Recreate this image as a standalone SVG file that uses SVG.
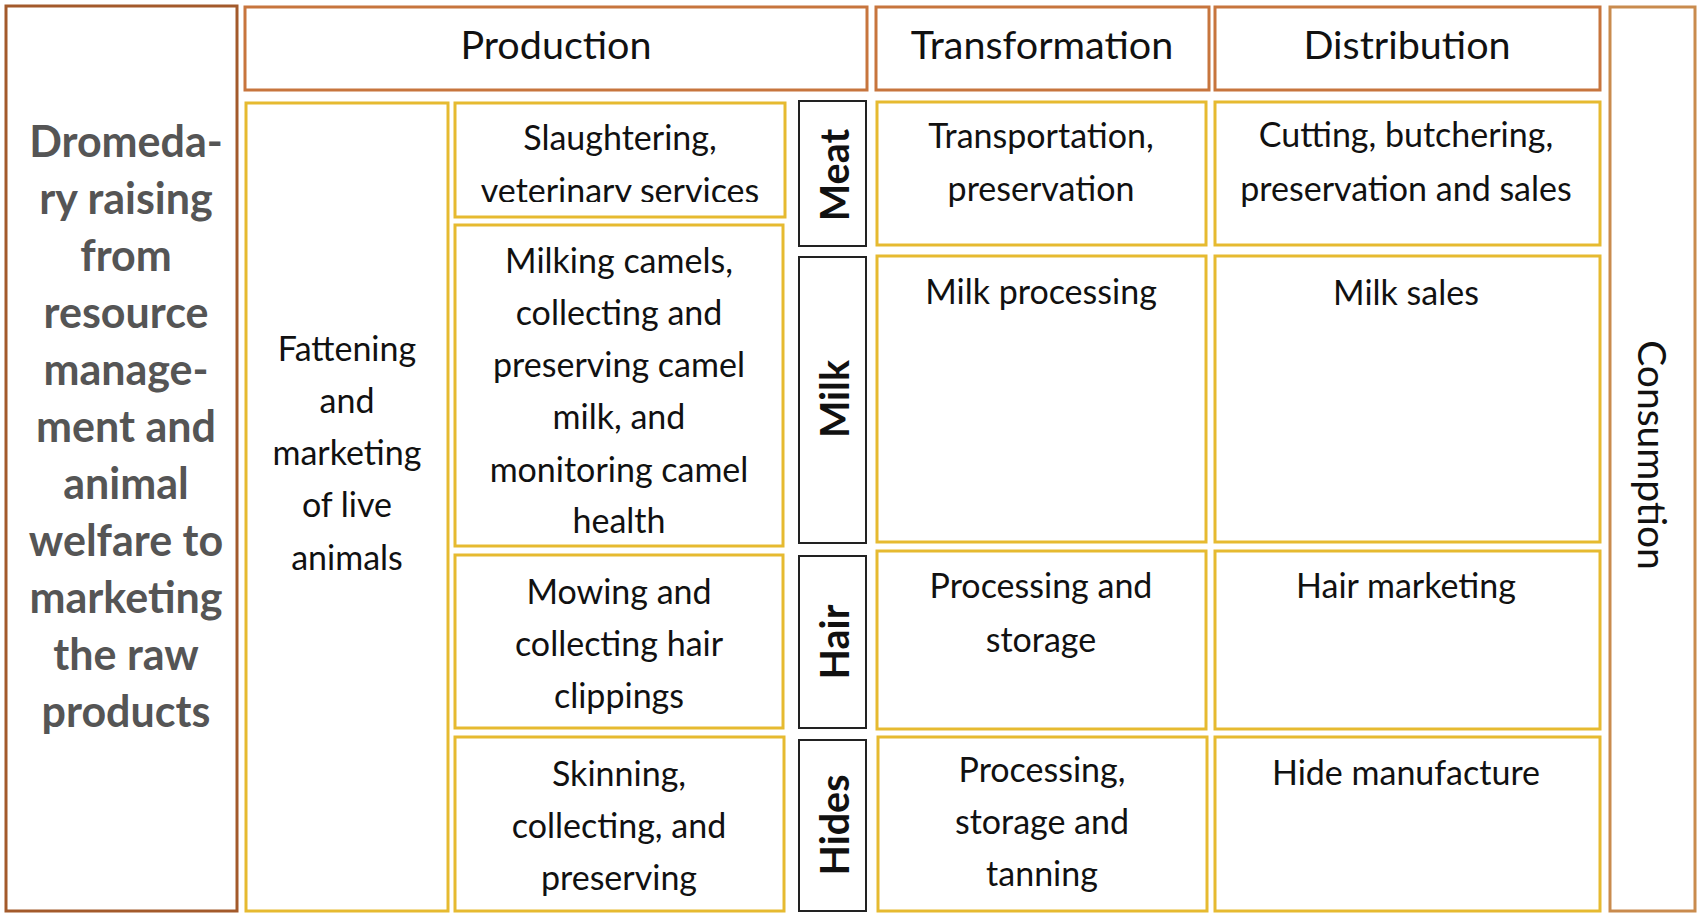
<svg xmlns="http://www.w3.org/2000/svg" width="1700" height="916" viewBox="0 0 1700 916">
<style>
.bg{fill:#fff}
.stage{fill:#fff;stroke:#C7753D;stroke-width:3}
.side{fill:#fff;stroke:#A35A2B;stroke-width:3}
.cons{fill:#fff;stroke:#C98B4E;stroke-width:3}
.cell{fill:#fff;stroke:#E6BA30;stroke-width:3}
.prod{fill:#fff;stroke:#222;stroke-width:2}
text{font-family:Lato,"Open Sans","Liberation Sans",sans-serif;fill:#111;text-anchor:middle}
.hd{font-size:39.5px}
.cn{font-size:39px}
.bd{font-size:34px}
.big{font-size:43px;font-weight:bold;fill:#555}
.pl{font-size:39.5px;font-weight:bold;fill:#111}
</style>
<defs>
<clipPath id="clipSl"><rect x="455" y="103" width="330" height="99"/></clipPath>
</defs>
<rect class="bg" x="0" y="0" width="1700" height="916"/>
<g id="connectors"></g>
<g id="overall">
<rect class="side" x="6" y="6" width="231" height="905"/>
<text class="big"><tspan x="126" y="157">Dromeda-</tspan><tspan x="126" y="214">ry raising</tspan><tspan x="126" y="271">from</tspan><tspan x="126" y="328">resource</tspan><tspan x="126" y="385">manage-</tspan><tspan x="126" y="442">ment and</tspan><tspan x="126" y="499">animal</tspan><tspan x="126" y="556">welfare to</tspan><tspan x="126" y="613">marketing</tspan><tspan x="126" y="670">the raw</tspan><tspan x="126" y="727">products</tspan></text>
</g>
<g id="production-header"><rect class="stage" x="245" y="7" width="622" height="83"/><text class="hd" x="556" y="59">Production</text></g>
<g id="transformation-header"><rect class="stage" x="876" y="7" width="333" height="83"/><text class="hd" x="1042" y="59">Transformation</text></g>
<g id="distribution-header"><rect class="stage" x="1215" y="7" width="385" height="83"/><text class="hd" x="1407" y="59">Distribution</text></g>
<g id="consumption"><rect class="cons" x="1610" y="7" width="85" height="904"/><text class="cn" transform="translate(1638,455) rotate(90)">Consumption</text></g>
<g id="fattening"><rect class="cell" x="246" y="103" width="202" height="808"/><text class="bd"><tspan x="347" y="361">Fattening</tspan><tspan x="347" y="413">and</tspan><tspan x="347" y="465">marketing</tspan><tspan x="347" y="517">of live</tspan><tspan x="347" y="570">animals</tspan></text></g>
<g id="slaughtering"><rect class="cell" x="455" y="103" width="330" height="114"/><text class="bd" clip-path="url(#clipSl)"><tspan x="620" y="150">Slaughtering,</tspan><tspan x="620" y="203">veterinary services</tspan></text></g>
<g id="milking"><rect class="cell" x="455" y="225" width="328" height="321"/><text class="bd"><tspan x="619" y="273">Milking camels,</tspan><tspan x="619" y="325">collecting and</tspan><tspan x="619" y="377">preserving camel</tspan><tspan x="619" y="429">milk, and</tspan><tspan x="619" y="482">monitoring camel</tspan><tspan x="619" y="533">health</tspan></text></g>
<g id="mowing"><rect class="cell" x="455" y="555" width="328" height="173"/><text class="bd"><tspan x="619" y="604">Mowing and</tspan><tspan x="619" y="656">collecting hair</tspan><tspan x="619" y="708">clippings</tspan></text></g>
<g id="skinning"><rect class="cell" x="455" y="737" width="329" height="174"/><text class="bd"><tspan x="619" y="786">Skinning,</tspan><tspan x="619" y="838">collecting, and</tspan><tspan x="619" y="890">preserving</tspan></text></g>
<g id="meat"><rect class="prod" x="799" y="101" width="67" height="145"/><text class="pl" transform="translate(849,175) rotate(-90)">Meat</text></g>
<g id="milk"><rect class="prod" x="799" y="257" width="67" height="286"/><text class="pl" transform="translate(849,399) rotate(-90)">Milk</text></g>
<g id="hair"><rect class="prod" x="799" y="556" width="67" height="172"/><text class="pl" transform="translate(849,642) rotate(-90)">Hair</text></g>
<g id="hides"><rect class="prod" x="799" y="740" width="67" height="171"/><text class="pl" transform="translate(849,825) rotate(-90)">Hides</text></g>
<g id="transportation"><rect class="cell" x="877" y="102" width="329" height="143"/><text class="bd"><tspan x="1041" y="148">Transportation,</tspan><tspan x="1041" y="201">preservation</tspan></text></g>
<g id="milk-processing"><rect class="cell" x="877" y="256" width="329" height="286"/><text class="bd" x="1041" y="304">Milk processing</text></g>
<g id="processing-storage"><rect class="cell" x="877" y="551" width="329" height="178"/><text class="bd"><tspan x="1041" y="598">Processing and</tspan><tspan x="1041" y="652">storage</tspan></text></g>
<g id="processing-tanning"><rect class="cell" x="878" y="737" width="329" height="174"/><text class="bd"><tspan x="1042" y="782">Processing,</tspan><tspan x="1042" y="834">storage and</tspan><tspan x="1042" y="886">tanning</tspan></text></g>
<g id="cutting"><rect class="cell" x="1215" y="102" width="385" height="143"/><text class="bd"><tspan x="1406" y="147">Cutting, butchering,</tspan><tspan x="1406" y="201">preservation and sales</tspan></text></g>
<g id="milk-sales"><rect class="cell" x="1215" y="256" width="385" height="286"/><text class="bd" x="1406" y="305">Milk sales</text></g>
<g id="hair-marketing"><rect class="cell" x="1215" y="551" width="385" height="178"/><text class="bd" x="1406" y="598">Hair marketing</text></g>
<g id="hide-manufacture"><rect class="cell" x="1215" y="737" width="385" height="174"/><text class="bd" x="1406" y="785">Hide manufacture</text></g>
</svg>
